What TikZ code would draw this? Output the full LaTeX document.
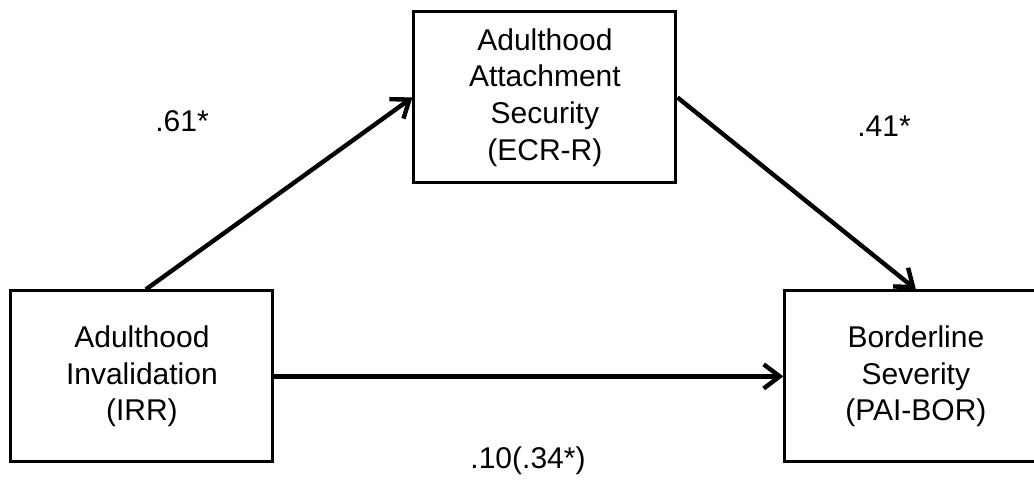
\documentclass[tikz,border=0pt]{standalone}
\usepackage{fontspec}
\setmainfont{Liberation Sans}
\usetikzlibrary{matrix,arrows,arrows.meta}
\usetikzlibrary{calc}

\tikzset{
	>={Straight Barb[length=8pt,width=12pt]},
	varbox/.style={draw, line width=1.5pt, minimum width=131pt, minimum height=85.5pt,
		align=center, font=\fontsize{15}{18.3}\selectfont},
	coeff/.style={font=\fontsize{15}{18.3}\selectfont}
}

\begin{document}
\begin{tikzpicture}[x=1pt,y=-1pt]
\useasboundingbox (0,0) rectangle (517,239.5);
%\matrix(m)[matrix of nodes, row sep=3em, column sep=3em]
\matrix(m)[row sep=52.5pt, column sep=53pt, inner sep=0pt, anchor=north west] at (4.5,5)
{
	    &[16pt] \node[varbox] (ecr) {Adulthood\\Attachment\\Security\\(ECR-R)}; &  \\
	\node[varbox] (irr) {Adulthood\\Invalidation\\(IRR)}; &  & \node[varbox] (pai) {Borderline\\Severity\\(PAI-BOR)}; \\
};
%\path[->,font=\scriptsize]
\path[->, line width=2.2pt]
([xshift=2pt]irr.north) edge (ecr.west)
(ecr.east) edge (pai.north)
(irr.east) edge (pai.west)
;
\node[coeff] (a) at (91,60.5) {.61*};
\node[coeff] (b) at (442,63) {.41*};
\node[coeff] (c) at (264,230.5) {.10(.34*)};
\end{tikzpicture}
\end{document}
